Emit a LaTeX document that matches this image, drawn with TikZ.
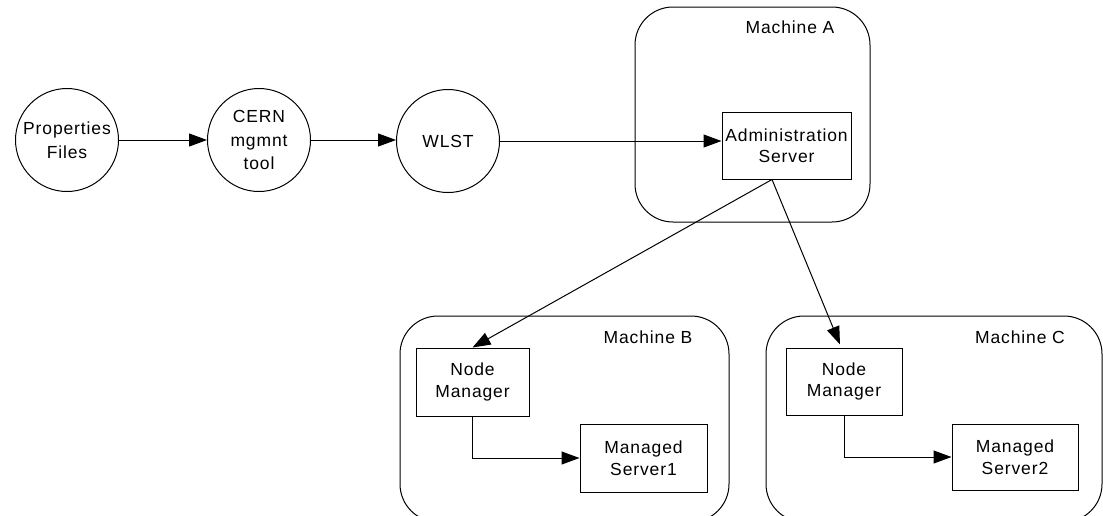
\documentclass[tikz,border=0pt]{standalone}
\usepackage{fontspec}
\setmainfont{Liberation Sans}[LetterSpace=5]
\usetikzlibrary{arrows.meta}
\begin{document}
\begin{tikzpicture}[x=1pt,y=-1pt,line width=1pt,
  font=\fontsize{17.5}{21.5}\selectfont,
  proc/.style={circle,draw,minimum size=103pt,inner sep=0pt,align=center,
    font=\fontsize{17.5}{23.5}\selectfont},
  box/.style={draw,align=center,inner sep=0pt},
  machine/.style={draw,rounded corners=38pt,inner sep=0pt},
  label/.style={inner sep=0pt,anchor=center},
  flow/.style={-{Triangle[length=18pt,width=13pt]}}]
  \useasboundingbox (0,0) rectangle (1103,515);
  \clip (0,0) rectangle (1103,515);

  % machines
  \node[machine,minimum width=235pt,minimum height=215pt] (mA) at (752.5,114.5) {};
  \node[machine,minimum width=329pt,minimum height=206pt] (mB) at (564.5,419) {};
  \node[machine,minimum width=336pt,minimum height=206pt] (mC) at (934,419) {};
  \node[label] (labA) at (790,27) {Machine A};
  \node[label] (labB) at (648,337) {Machine B};
  \node[label] (labC) at (1020,337) {Machine C};

  % tool chain
  \node[proc] (props) at (67,140) {Properties\\Files};
  \node[proc] (cern) at (259,140) {CERN\\mgmnt\\tool};
  \node[proc] (wlst) at (448,141) {WLST};

  % servers
  \node[box,minimum width=129pt,minimum height=67pt] (admin) at (786.5,145.5) {Administration\\Server};
  \node[box,minimum width=113pt,minimum height=68pt] (nmb) at (472.5,382) {Node\\Manager};
  \node[box,minimum width=127pt,minimum height=68pt] (ms1) at (643.5,458) {Managed\\Server1};
  \node[box,minimum width=116pt,minimum height=67pt] (nmc) at (844,381.5) {Node\\Manager};
  \node[box,minimum width=126pt,minimum height=66pt] (ms2) at (1015,457) {Managed\\Server2};

  % connectors
  \draw[flow] (props) -- (cern);
  \draw[flow] (cern) -- (cern -| wlst.west);
  \draw[flow] (wlst) -- (wlst -| admin.west);
  \coordinate (aout) at ([xshift=-14.5pt]admin.south);
  \draw[flow] (aout) -- (nmb.north);
  \draw[flow] (aout) -- ([xshift=-4pt,yshift=3pt]nmc.north);
  \draw[flow] (nmb.south) |- (ms1.west);
  \draw[flow] (nmc.south) |- (ms2.west);
\end{tikzpicture}
\end{document}
